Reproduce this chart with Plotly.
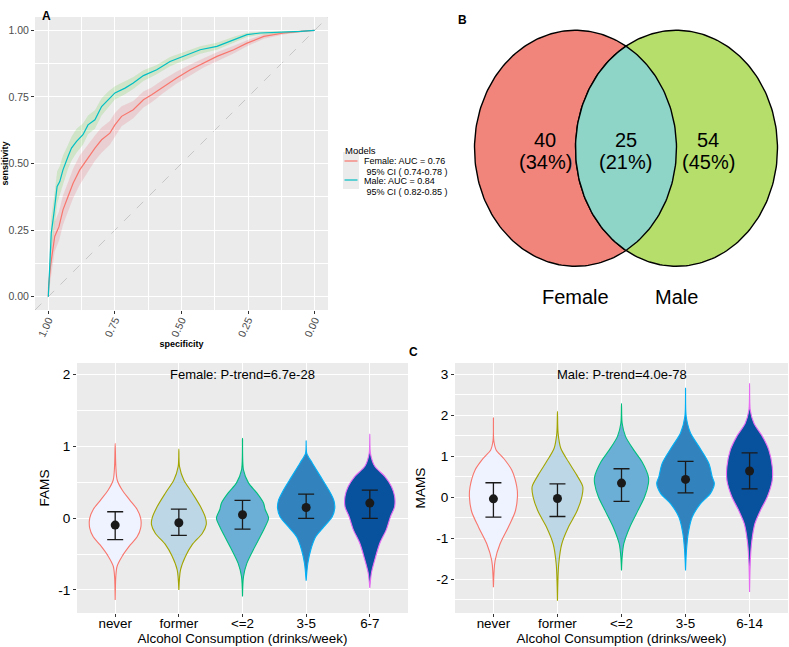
import numpy as np
import plotly.graph_objects as go

W, H = 789, 647
FONT = "Liberation Sans, Arial, sans-serif"

# ---------------- Panel A: ROC data ----------------
male_spec = [1.000, .995, .989, .979, .972, .967, .957, .945, .926, .913, .894, .870, .851, .825, .800,
             .775, .750, .712, .681, .643, .593, .543, .493, .430, .367, .304, .254, .204, .116, .053, 0.0]
male_sens = [0.0, .113, .238, .313, .363, .414, .432, .476, .526, .558, .583, .608, .645, .664, .714,
             .739, .765, .783, .802, .830, .852, .883, .902, .927, .940, .965, .984, .990, .992, .996, 1.0]
male_lo = [0.0, .06, .17, .25, .30, .35, .38, .42, .48, .51, .54, .57, .61, .63, .68,
           .71, .74, .76, .78, .81, .835, .865, .885, .912, .927, .953, .975, .983, .987, .993, 1.0]
male_hi = [0.0, .17, .30, .37, .42, .47, .49, .53, .57, .60, .63, .65, .68, .70, .745,
           .77, .79, .81, .825, .85, .87, .90, .918, .94, .953, .976, .991, .995, .997, .999, 1.0]

female_spec = [1.0, .999, .992, .985, .976, .960, .945, .926, .907, .882, .857, .825, .800, .769, .750,
               .725, .681, .643, .612, .568, .518, .467, .417, .367, .304, .254, .191, .116, .053, 0.0]
female_sens = [0.0, .038, .113, .163, .226, .263, .326, .376, .426, .476, .514, .558, .589, .614, .645,
               .677, .702, .739, .758, .789, .821, .852, .877, .902, .927, .952, .977, .990, .996, 1.0]
female_lo = [0.0, 0.0, .06, .11, .17, .21, .27, .32, .37, .42, .46, .51, .54, .57, .60,
             .64, .67, .71, .73, .765, .80, .83, .86, .885, .913, .94, .968, .984, .993, 1.0]
female_hi = [0.0, .08, .17, .22, .28, .32, .38, .43, .48, .53, .565, .605, .635, .66, .69,
             .715, .735, .77, .785, .815, .845, .872, .895, .918, .942, .963, .985, .995, .999, 1.0]

legend_female = ["Female: AUC = 0.76", " 95% CI ( 0.74-0.78 )"]
legend_male = ["Male: AUC = 0.84", " 95% CI ( 0.82-0.85 )"]

# ---------------- Panel B: Venn data ----------------
venn_sets = ["Female", "Male"]
venn_counts = [40, 25, 54]  # female only, both, male only

# ---------------- Panel C: violin data ----------------
f_cats = ["never", "former", "<=2", "3-5", "6-7"]
m_cats = ["never", "former", "<=2", "3-5", "6-14"]

f_mean = [-0.097, -0.065, 0.046, 0.148, 0.209]
f_lo = [-0.30, -0.24, -0.153, -0.005, -0.005]
f_hi = [0.088, 0.125, 0.245, 0.334, 0.39]

m_mean = [-0.034, -0.025, 0.35, 0.44, 0.645]
m_lo = [-0.48, -0.466, -0.098, 0.113, 0.21]
m_hi = [0.358, 0.333, 0.70, 0.88, 1.086]

# violin profiles: (y values top->bottom, half widths in category units)
f_vy = [
    [1.04, .72, .53, .39, .25, .12, 0.0, -.14, -.26, -.37, -.53, -.67, -.81, -1.14],
    [.96, .72, .53, .35, .16, 0.0, -.09, -.21, -.37, -.53, -.72, -1.0],
    [1.11, .67, .49, .35, .21, .12, 0.0, -.12, -.26, -.44, -.63, -.81, -1.09],
    [1.075, .90, .77, .58, .39, .25, .14, .02, -.12, -.26, -.44, -.63, -.87],
    [1.17, .90, .72, .58, .44, .30, .16, .02, -.16, -.35, -.58, -.76, -.97],
]
f_vw = [
    [0.0, .01, .031, .11, .23, .345, .40, .40, .345, .24, .11, .03, .01, 0.0],
    [0.0, .01, .078, .21, .34, .42, .43, .37, .21, .105, .026, 0.0],
    [0.0, .015, .094, .225, .33, .356, .41, .356, .277, .17, .068, .016, 0.0],
    [0.0, .01, .094, .225, .356, .434, .45, .41, .28, .15, .073, .026, 0.0],
    [0.0, .01, .078, .235, .34, .39, .39, .325, .26, .157, .078, .026, 0.0],
]
m_vy = [
    [1.94, 1.40, 1.16, .96, .67, .26, .01, -.35, -.72, -1.13, -1.54, -2.19],
    [2.10, 1.57, 1.20, .87, .55, .26, .01, -.35, -.72, -1.13, -1.62, -2.52],
    [2.29, 1.81, 1.49, 1.16, .87, .50, .34, .01, -.31, -.72, -1.13, -1.46, -1.78],
    [2.67, 1.98, 1.57, 1.24, .83, .50, .34, .10, -.15, -.48, -.88, -1.29, -1.78],
    [2.78, 2.14, 1.81, 1.49, 1.16, .75, .42, .01, -.31, -.64, -1.13, -1.62, -2.31],
]
m_vw = [
    [0.0, .005, .042, .156, .286, .365, .375, .339, .234, .104, .026, 0.0],
    [0.0, .01, .052, .172, .30, .396, .38, .30, .172, .068, .02, 0.0],
    [0.0, .01, .0625, .19, .32, .42, .42, .36, .26, .13, .036, .01, 0.0],
    [0.0, .01, .078, .21, .365, .417, .45, .39, .234, .104, .042, .015, 0.0],
    [0.0, .01, .068, .20, .30, .354, .354, .276, .172, .083, .03, .01, 0.0],
]

outline_cols = ["#F8766D", "#A3A500", "#00BF7D", "#00B0F6", "#E76BF3"]
fill_cols = ["#EFF3FF", "#BDD7E7", "#6BAED6", "#3182BD", "#08519C"]

f_note = "Female: P-trend=6.7e-28"
m_note = "Male: P-trend=4.0e-78"

# ---------------- figure ----------------
fig = go.Figure()

def px_x(a, b):
    return [a / W, b / W]

def px_y(top, bottom):
    return [1 - bottom / H, 1 - top / H]

# ROC bands
for spec, lo, hi, col in [(female_spec, female_lo, female_hi, "rgba(225,70,90,0.17)"),
                          (male_spec, male_lo, male_hi, "rgba(100,200,60,0.20)")]:
    fig.add_trace(go.Scatter(x=spec + spec[::-1], y=hi + lo[::-1], fill="toself", fillcolor=col,
                             line=dict(width=0), mode="lines", hoverinfo="skip", showlegend=False,
                             xaxis="x", yaxis="y"))
# ROC curves
fig.add_trace(go.Scatter(x=female_spec, y=female_sens, mode="lines", line=dict(color="#F8766D", width=1.2),
                         name="Female", showlegend=False, xaxis="x", yaxis="y"))
fig.add_trace(go.Scatter(x=male_spec, y=male_sens, mode="lines", line=dict(color="#00BFC4", width=1.2),
                         name="Male", showlegend=False, xaxis="x", yaxis="y"))

# violins
def add_violins(vy, vw, means, los, his, xa, ya):
    pos = np.arange(1, len(vy) + 1)
    for i in range(len(vy)):
        y = np.array(vy[i]); w = np.array(vw[i])
        xs = np.concatenate([pos[i] + w, (pos[i] - w)[::-1]])
        ys = np.concatenate([y, y[::-1]])
        fig.add_trace(go.Scatter(x=xs, y=ys, mode="lines", fill="toself", fillcolor=fill_cols[i],
                                 line=dict(color=outline_cols[i], width=1.1, shape="spline", smoothing=0.8),
                                 hoverinfo="skip", showlegend=False, xaxis=xa, yaxis=ya))
    m = np.array(means)
    fig.add_trace(go.Scatter(x=pos, y=m, mode="markers",
                             marker=dict(size=9, color="#1A1A1A"),
                             error_y=dict(type="data", symmetric=False, array=np.array(his) - m,
                                          arrayminus=m - np.array(los), width=8, thickness=1.3,
                                          color="#1A1A1A"),
                             showlegend=False, xaxis=xa, yaxis=ya))

add_violins(f_vy, f_vw, f_mean, f_lo, f_hi, "x2", "y2")
add_violins(m_vy, m_vw, m_mean, m_lo, m_hi, "x3", "y3")

# Venn (pixel-like coordinates on hidden axes)
cxF, cxM, cy, rx, ry = 575.5, 676.5, 148.3, 101, 118
t = np.linspace(0, 2 * np.pi, 240)
fig.add_trace(go.Scatter(x=cxF + rx * np.cos(t), y=cy + ry * np.sin(t), fill="toself", fillcolor="#F2857B",
                         mode="lines", line=dict(color="black", width=1.4), hoverinfo="skip",
                         showlegend=False, xaxis="x4", yaxis="y4"))
fig.add_trace(go.Scatter(x=cxM + rx * np.cos(t), y=cy + ry * np.sin(t), fill="toself", fillcolor="#B5DF6A",
                         mode="lines", line=dict(color="black", width=1.4), hoverinfo="skip",
                         showlegend=False, xaxis="x4", yaxis="y4"))
ta = np.linspace(-np.pi / 3, np.pi / 3, 80)
tb = np.linspace(2 * np.pi / 3, 4 * np.pi / 3, 80)
lens_x = np.concatenate([cxF + rx * np.cos(ta), cxM + rx * np.cos(tb)])
lens_y = np.concatenate([cy + ry * np.sin(ta), cy + ry * np.sin(tb)])
fig.add_trace(go.Scatter(x=lens_x, y=lens_y, fill="toself", fillcolor="#8ED5C8",
                         mode="lines", line=dict(color="black", width=1.4), hoverinfo="skip",
                         showlegend=False, xaxis="x4", yaxis="y4"))

total = sum(venn_counts)
venn_x = [545, 625.7, 708]
annotations = []
for vx, c in zip(venn_x, venn_counts):
    annotations.append(dict(x=vx, y=140, xref="x4", yref="y4", text=str(c), showarrow=False,
                            font=dict(size=20, color="black", family=FONT)))
    annotations.append(dict(x=vx, y=162, xref="x4", yref="y4", text=f"({round(100 * c / total)}%)",
                            showarrow=False, font=dict(size=20, color="black", family=FONT)))
for name, vx in zip(venn_sets, [575.7, 676.7]):
    annotations.append(dict(x=vx, y=296.7, xref="x4", yref="y4", text=name, showarrow=False,
                            font=dict(size=20, color="black", family=FONT)))

# panel tags
for lab, x, y in [("A", 40, 7), ("B", 463, 11), ("C", 413, 352)]:
    annotations.append(dict(x=x / W, y=1 - y / H, xref="paper", yref="paper", text=f"<b>{lab}</b>",
                            showarrow=False, font=dict(size=12, color="black", family=FONT)))

# manual ROC legend
annotations.append(dict(x=343 / W, y=1 - 143 / H, xref="paper", yref="paper", text="Models", xanchor="left",
                        showarrow=False, font=dict(size=9.5, color="black", family=FONT)))
for txt, y in zip(legend_female + legend_male, [155.5, 166, 175.5, 186]):
    annotations.append(dict(x=363 / W, y=1 - y / H, xref="paper", yref="paper",
                            text=txt.replace(" ", "&nbsp;", 1) if txt.startswith(" ") else txt,
                            xanchor="left", showarrow=False, borderpad=0,
                            font=dict(size=9, color="black", family=FONT)))

# P-trend notes
annotations.append(dict(x=3, y=2, xref="x2", yref="y2", text=f_note, showarrow=False,
                        font=dict(size=13, color="black", family=FONT)))
annotations.append(dict(x=3, y=3, xref="x3", yref="y3", text=m_note, showarrow=False,
                        font=dict(size=13, color="black", family=FONT)))

shapes = []
# grey panel backgrounds
for (x0, x1, y0, y1) in [(35, 328, 17, 310), (77, 408, 363, 613), (455, 788, 363, 613)]:
    shapes.append(dict(type="rect", xref="paper", yref="paper", x0=x0 / W, x1=x1 / W,
                       y0=1 - y1 / H, y1=1 - y0 / H, fillcolor="#EBEBEB", line=dict(width=0), layer="below"))
# legend key background and keys
shapes.append(dict(type="rect", xref="paper", yref="paper", x0=343 / W, x1=359 / W, y0=1 - 189 / H,
                   y1=1 - 152 / H, fillcolor="#EBEBEB", line=dict(width=0), layer="below"))
shapes.append(dict(type="line", xref="paper", yref="paper", x0=344.5 / W, x1=357.5 / W, y0=1 - 161 / H,
                   y1=1 - 161 / H, line=dict(color="#F8766D", width=1.2)))
shapes.append(dict(type="line", xref="paper", yref="paper", x0=344.5 / W, x1=357.5 / W, y0=1 - 180 / H,
                   y1=1 - 180 / H, line=dict(color="#00BFC4", width=1.2)))
# diagonal reference
shapes.append(dict(type="line", xref="x", yref="y", x0=1.05, y0=-0.05, x1=-0.05, y1=1.05,
                   line=dict(color="#BEBEBE", width=0.8, dash="dash"), layer="below"))

grid = dict(showgrid=True, gridcolor="white", gridwidth=1.1, zeroline=False, showline=False,
            ticks="outside", ticklen=3, tickcolor="#333333", tickwidth=1)
minor_grid = lambda d: dict(tick0=0, dtick=d, showgrid=True, gridcolor="white", gridwidth=0.5)

fig.update_layout(
    width=W, height=H, autosize=False, margin=dict(l=0, r=0, t=0, b=0),
    paper_bgcolor="white", plot_bgcolor="rgba(0,0,0,0)", template="none",
    font=dict(family=FONT), showlegend=False,
    xaxis=dict(domain=px_x(35, 328), range=[1.05, -0.05], anchor="y", tick0=0, dtick=0.25,
               tickformat=".2f", tickangle=-65, tickfont=dict(size=10.5, color="#4D4D4D"),
               ticklabelstandoff=-4, minor=minor_grid(0.125),
               title=dict(text="<b>specificity</b>", font=dict(size=9, color="black"), standoff=1), **grid),
    yaxis=dict(domain=px_y(17, 310), range=[-0.05, 1.05], anchor="x", tick0=0, dtick=0.25,
               tickformat=".2f", tickfont=dict(size=10.5, color="#4D4D4D"), minor=minor_grid(0.125),
               title=dict(text="<b>sensitivity</b>", font=dict(size=9, color="black"), standoff=3), **grid),
    xaxis2=dict(domain=px_x(77, 408), range=[0.4, 5.6], anchor="y2", tickvals=list(range(1, 6)),
                ticktext=f_cats, tickfont=dict(size=13.4, color="black"), ticklabelstandoff=-5,
                title=dict(text="Alcohol Consumption (drinks/week)", font=dict(size=13.4, color="black"), standoff=1),
                **grid),
    yaxis2=dict(domain=px_y(363, 613), range=[-1.32, 2.157], anchor="x2", tickvals=[-1, 0, 1, 2],
                ticktext=["-1", "0", "1", "2"], tickfont=dict(size=13.6, color="black"), minor=minor_grid(0.5),
                title=dict(text="FAMS", font=dict(size=13.6, color="black"), standoff=5), **grid),
    xaxis3=dict(domain=px_x(455, 788), range=[0.4, 5.6], anchor="y3", tickvals=list(range(1, 6)),
                ticktext=m_cats, tickfont=dict(size=13.4, color="black"), ticklabelstandoff=-5,
                title=dict(text="Alcohol Consumption (drinks/week)", font=dict(size=13.4, color="black"), standoff=1),
                **grid),
    yaxis3=dict(domain=px_y(363, 613), range=[-2.82, 3.28], anchor="x3", tickvals=[-2, -1, 0, 1, 2, 3],
                ticktext=["-2", "-1", "0", "1", "2", "3"], tickfont=dict(size=13.6, color="black"),
                minor=minor_grid(0.5),
                title=dict(text="MAMS", font=dict(size=13.6, color="black"), standoff=7), **grid),
    xaxis4=dict(domain=[455 / W, 1], range=[455, 789], visible=False, anchor="y4", fixedrange=True),
    yaxis4=dict(domain=[1 - 320 / H, 1], range=[320, 0], visible=False, anchor="x4", fixedrange=True),
    annotations=annotations, shapes=shapes,
)

fig.write_html("out.html")
